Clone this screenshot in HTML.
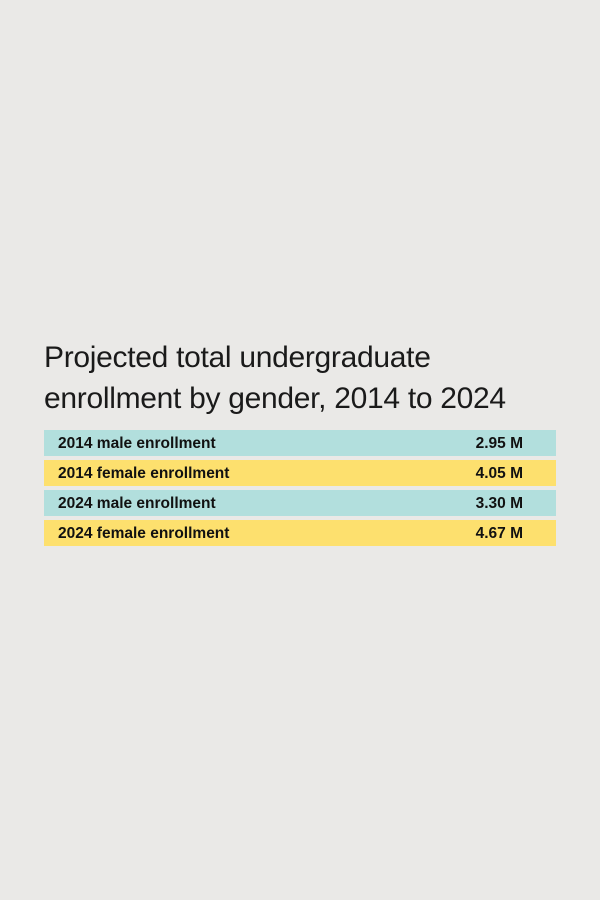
<!DOCTYPE html>
<html><head><meta charset="utf-8"><style>
body{margin:0;width:600px;height:900px;background:#eae9e7;font-family:"Liberation Sans",sans-serif;position:relative;overflow:hidden}
#title{position:absolute;left:44px;top:337px;font-size:30px;line-height:41px;color:#1a1a1a;font-weight:normal;margin:0;letter-spacing:-0.3px}
.row{position:absolute;left:44px;width:512px;height:26px;font-weight:bold;font-size:15.5px;color:#111;line-height:27px}
.row .l{position:absolute;left:14px}
.row .v{position:absolute;right:33px}
.m{background:#b2dfdd}.f{background:#fde06e}
</style></head><body>
<h1 id="title">Projected total undergraduate<br>enrollment by gender, 2014 to 2024</h1>
<div id="table"></div>
<script>
const labels=["2014 male enrollment","2014 female enrollment","2024 male enrollment","2024 female enrollment"];
const values=[2.95,4.05,3.30,4.67];
const kinds=["m","f","m","f"];
const t=document.getElementById('table');
labels.forEach((lab,i)=>{
 const r=document.createElement('div');
 r.className='row '+kinds[i];
 r.style.top=(430+i*30)+'px';
 
 
 const a=document.createElement('span');a.className='l';a.textContent=lab;
 
 
 const b=document.createElement('span');b.className='v';b.textContent=values[i].toFixed(2)+' M';
 
 
 r.appendChild(a);r.appendChild(b);t.appendChild(r);
});
</script>
</body></html>
